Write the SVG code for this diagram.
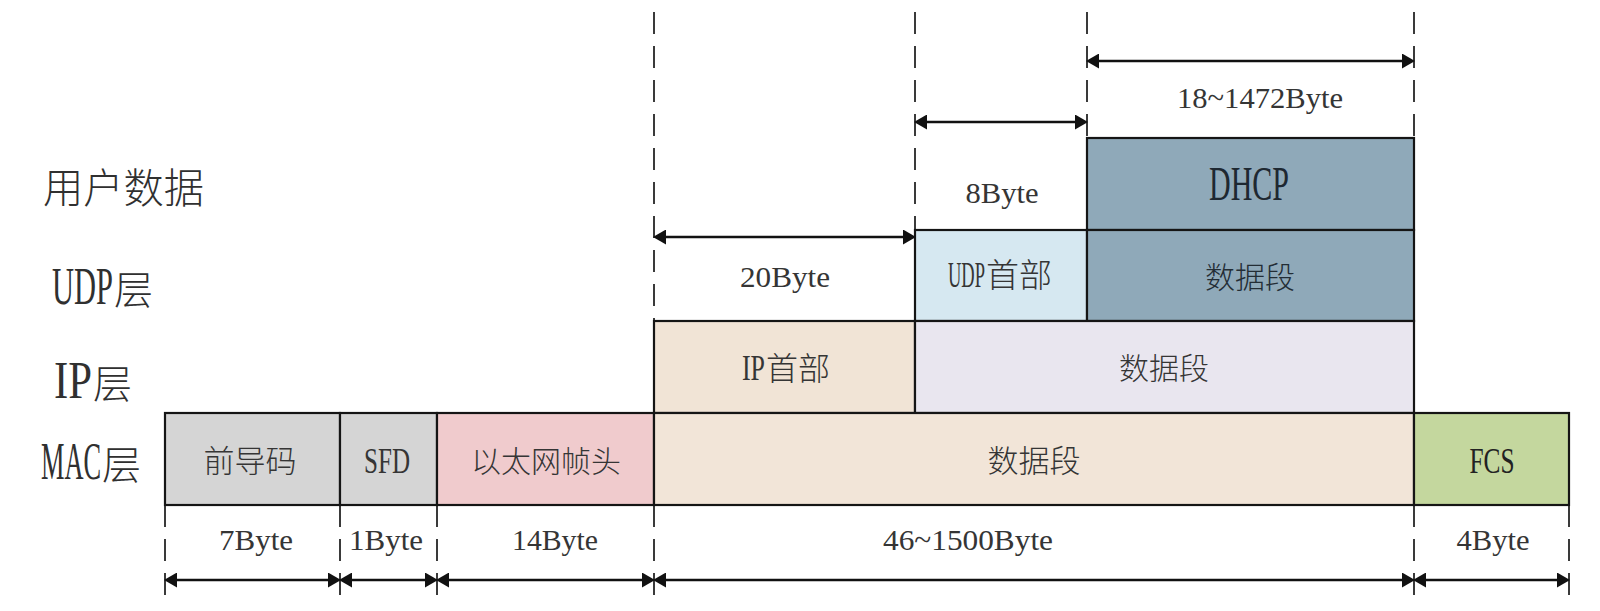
<svg xmlns="http://www.w3.org/2000/svg" width="1600" height="611" viewBox="0 0 1600 611">
<style>
.box{stroke:#151515;stroke-width:2.2}
.t{font-family:"Liberation Serif","Noto Sans CJK SC",serif;fill:#353535;text-anchor:middle}
.s{font-family:"Liberation Serif","Noto Sans CJK SC",serif;fill:#353535;text-anchor:start}
.lbl{font-family:"Liberation Serif","Noto Sans CJK SC",serif;fill:#303030;text-anchor:start}
.cjk{font-family:"Noto Sans CJK SC",sans-serif;font-weight:300}
.sz{font-size:30px}
.guide{stroke:#3a3a3a;stroke-width:2;stroke-dasharray:22 12;fill:none}
.arrow{stroke:#111;stroke-width:2.6;fill:none;marker-start:url(#ah);marker-end:url(#ah)}
</style>
<defs>
<marker id="ah" viewBox="0 0 13 15" refX="4" refY="7.5" markerWidth="13" markerHeight="15" markerUnits="userSpaceOnUse" orient="auto-start-reverse">
<path d="M0,0 L13,7.5 L0,15 Z" fill="#111"/>
</marker>
</defs>
<rect width="1600" height="611" fill="#ffffff"/>

<g id="row-labels">
<text class="lbl cjk" x="43" y="203" font-size="41" textLength="161" lengthAdjust="spacingAndGlyphs">用户数据</text>
<text class="lbl" y="304"><tspan x="52" font-size="52" textLength="61" lengthAdjust="spacingAndGlyphs">UDP</tspan><tspan x="114" font-size="39" class="cjk">层</tspan></text>
<text class="lbl" y="398"><tspan x="54" font-size="52" textLength="38" lengthAdjust="spacingAndGlyphs">IP</tspan><tspan x="93" font-size="39" class="cjk">层</tspan></text>
<text class="lbl" y="479"><tspan x="41" font-size="52" textLength="60" lengthAdjust="spacingAndGlyphs">MAC</tspan><tspan x="102" font-size="39" class="cjk">层</tspan></text>
</g>

<g id="guides">
<line class="guide" x1="654" y1="12" x2="654" y2="321"/>
<line class="guide" x1="915" y1="12" x2="915" y2="230"/>
<line class="guide" x1="1087" y1="12" x2="1087" y2="138"/>
<line class="guide" x1="1414" y1="12" x2="1414" y2="138"/>
<line class="guide" x1="165" y1="505" x2="165" y2="597"/>
<line class="guide" x1="340" y1="505" x2="340" y2="597"/>
<line class="guide" x1="437" y1="505" x2="437" y2="597"/>
<line class="guide" x1="654" y1="505" x2="654" y2="597"/>
<line class="guide" x1="1414" y1="505" x2="1414" y2="597"/>
<line class="guide" x1="1569" y1="505" x2="1569" y2="597"/>
</g>

<g id="dhcp">
<rect class="box" x="1087" y="138" width="327" height="92" fill="#8fa9b9"/>
<text class="t" x="1249" y="200" font-size="48" textLength="80" lengthAdjust="spacingAndGlyphs" style="fill:#1e2831">DHCP</text>
</g>
<g id="udp-header">
<rect class="box" x="915" y="230" width="172" height="91" fill="#d6e8f1"/>
<text class="s" y="287"><tspan x="948" font-size="35" textLength="37" lengthAdjust="spacingAndGlyphs">UDP</tspan><tspan x="986" class="cjk" font-size="33">首部</tspan></text>
</g>
<g id="udp-data">
<rect class="box" x="1087" y="230" width="327" height="91" fill="#8fa9b9"/>
<text class="t cjk" x="1250" y="288" font-size="30" style="fill:#232d35">数据段</text>
</g>
<g id="ip-header">
<rect class="box" x="654" y="321" width="261" height="92" fill="#f1e4d6"/>
<text class="s" y="380"><tspan x="742" font-size="35" textLength="23" lengthAdjust="spacingAndGlyphs">IP</tspan><tspan x="766" class="cjk" font-size="32">首部</tspan></text>
</g>
<g id="ip-data">
<rect class="box" x="915" y="321" width="499" height="92" fill="#e9e6ef"/>
<text class="t cjk" x="1164" y="379" font-size="30">数据段</text>
</g>
<g id="preamble">
<rect class="box" x="165" y="413" width="175" height="92" fill="#d5d5d5"/>
<text class="t cjk" x="250" y="472" font-size="31">前导码</text>
</g>
<g id="sfd">
<rect class="box" x="340" y="413" width="97" height="92" fill="#d5d5d5"/>
<text class="t" x="387" y="473" font-size="35" textLength="46" lengthAdjust="spacingAndGlyphs">SFD</text>
</g>
<g id="eth-header">
<rect class="box" x="437" y="413" width="217" height="92" fill="#f0cbcd"/>
<text class="t cjk" x="546" y="472" font-size="30">以太网帧头</text>
</g>
<g id="mac-data">
<rect class="box" x="654" y="413" width="760" height="92" fill="#f2e5d8"/>
<text class="t cjk" x="1034" y="472" font-size="31">数据段</text>
</g>
<g id="fcs">
<rect class="box" x="1414" y="413" width="155" height="92" fill="#c4d79e"/>
<text class="t" x="1492" y="473" font-size="35" textLength="45" lengthAdjust="spacingAndGlyphs" style="fill:#222">FCS</text>
</g>

<g id="connectors">
<line class="arrow" x1="1095" y1="61" x2="1406" y2="61"/>
<line class="arrow" x1="923" y1="122" x2="1079" y2="122"/>
<line class="arrow" x1="662" y1="237" x2="907" y2="237"/>
<line class="arrow" x1="173" y1="580" x2="332" y2="580"/>
<line class="arrow" x1="348" y1="580" x2="429" y2="580"/>
<line class="arrow" x1="445" y1="580" x2="646" y2="580"/>
<line class="arrow" x1="662" y1="580" x2="1406" y2="580"/>
<line class="arrow" x1="1422" y1="580" x2="1561" y2="580"/>
</g>

<g id="size-labels">
<text class="t sz" x="1260" y="108" textLength="166" lengthAdjust="spacingAndGlyphs">18~1472Byte</text>
<text class="t sz" x="1002" y="203" textLength="73" lengthAdjust="spacingAndGlyphs">8Byte</text>
<text class="t sz" x="785" y="287" textLength="90" lengthAdjust="spacingAndGlyphs">20Byte</text>
<text class="t sz" x="256" y="550" textLength="74" lengthAdjust="spacingAndGlyphs">7Byte</text>
<text class="t sz" x="386" y="550" textLength="74" lengthAdjust="spacingAndGlyphs">1Byte</text>
<text class="t sz" x="555" y="550" textLength="86" lengthAdjust="spacingAndGlyphs">14Byte</text>
<text class="t sz" x="968" y="550" textLength="170" lengthAdjust="spacingAndGlyphs">46~1500Byte</text>
<text class="t sz" x="1493" y="550" textLength="73" lengthAdjust="spacingAndGlyphs">4Byte</text>
</g>
</svg>
